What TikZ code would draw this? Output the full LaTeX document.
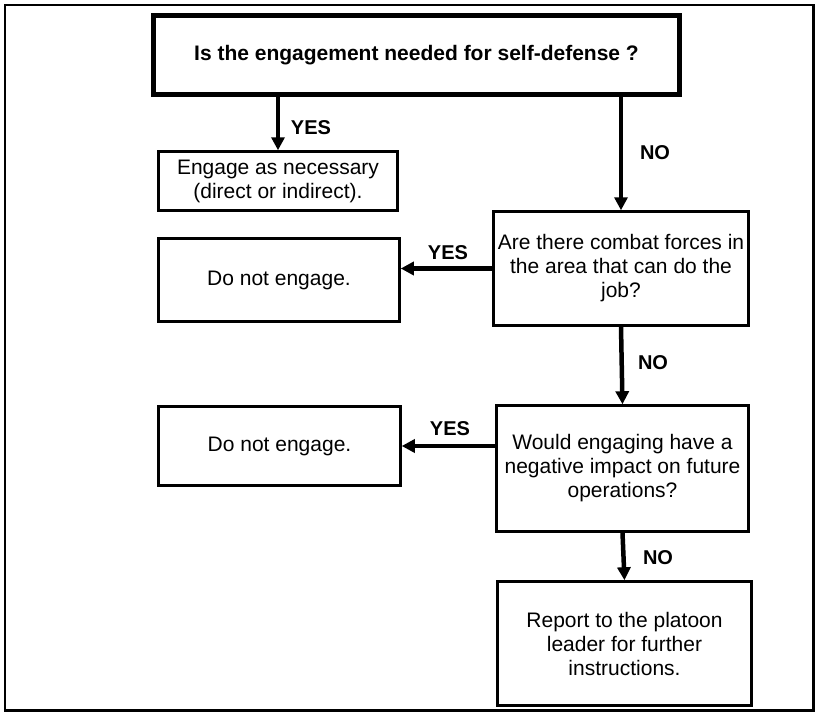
\documentclass[tikz,border=0pt]{standalone}
\usepackage{fontspec}
\setmainfont{Liberation Sans}
\usetikzlibrary{arrows.meta}
\tikzset{
  box/.style={draw, line width=2.5pt, align=center, inner sep=0pt, font=\fontsize{21}{24}\selectfont},
  question/.style={box, line width=5pt, font=\bfseries\fontsize{21}{24}\selectfont},
  flow/.style={line width=4.5pt, -{Triangle[length=13pt,width=13pt]}},
  answer/.style={font=\bfseries\fontsize{20}{24}\selectfont}
}
\begin{document}
\begin{tikzpicture}[x=1pt,y=-1pt]
  \useasboundingbox (0,0) rectangle (815,712);
  \draw[line width=2.5pt] (5,5) rectangle (813.5,710.5);
  \node[question, minimum width=526pt, minimum height=79pt] (selfdef) at (416.5,55) {Is the engagement needed for self-defense ?};
  \node[box, minimum width=239pt, minimum height=59pt] (engage) at (278,181) {Engage as necessary\\(direct or indirect).};
  \node[box, minimum width=241pt, minimum height=83pt] (noengage1) at (279,280) {Do not engage.};
  \node[box, minimum width=255pt, minimum height=114pt] (forces) at (621,268.5) {Are there combat forces in\\the area that can do the\\job?};
  \node[box, minimum width=242pt, minimum height=79pt] (noengage2) at (279.5,446) {Do not engage.};
  \node[box, minimum width=252pt, minimum height=126pt] (impact) at (622.5,468.5) {Would engaging have a\\negative impact on future\\operations?};
  \node[box, minimum width=254pt, minimum height=124pt] (report) at (624.5,643.5) {Report to the platoon\\leader for further\\instructions.};
  \draw[flow] (selfdef.south -| engage.north) -- (engage.north);
  \draw[flow] (selfdef.south -| forces.north) -- (forces.north);
  \draw[flow] (forces.west) -- (forces.west -| noengage1.east);
  \draw[flow] (forces.south) -- (impact.north);
  \draw[flow] (noengage2.east -| impact.west) -- (noengage2.east);
  \draw[flow] (impact.south) -- (report.north);
  \node[answer] (yes1) at (311,128) {YES};
  \node[answer] (no1) at (655,153) {NO};
  \node[answer] (yes2) at (448,253) {YES};
  \node[answer] (no2) at (653,363) {NO};
  \node[answer] (yes3) at (450,429) {YES};
  \node[answer] (no3) at (658,558) {NO};
\end{tikzpicture}
\end{document}
